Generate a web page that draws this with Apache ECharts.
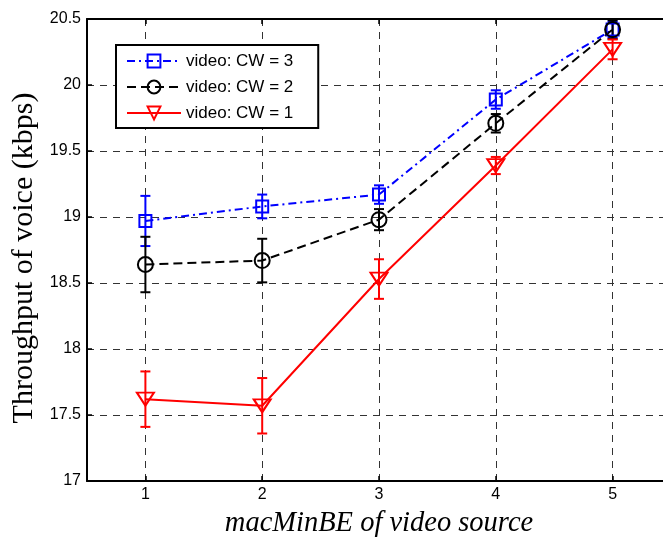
<!DOCTYPE html>
<html>
<head>
<meta charset="utf-8">
<script src="https://cdn.jsdelivr.net/npm/echarts@6/dist/echarts.min.js"></script>
<style>html,body{margin:0;padding:0;background:#fff;}#c{width:663px;height:540px;}</style>
</head>
<body>
<div id="c"></div>
<script>
// ---- data ----
var xValues = [1, 2, 3, 4, 5];
var xTicks = [1, 2, 3, 4, 5];
var yTicksMin = 17, yTicksMax = 20.5, yTickStep = 0.5;
var seriesNames = ['video: CW = 3', 'video: CW = 2', 'video: CW = 1'];
var cw3 = [18.97, 19.08, 19.17, 19.89, 20.42];
var cw3Err = [0.19, 0.09, 0.07, 0.07, 0.06];
var cw2 = [18.64, 18.67, 18.98, 19.71, 20.42];
var cw2Err = [0.21, 0.165, 0.08, 0.07, 0.07];
var cw1 = [17.62, 17.57, 18.53, 19.39, 20.27];
var cw1Err = [0.21, 0.21, 0.15, 0.065, 0.075];
var xTitle = 'macMinBE of video source';
var yTitle = 'Throughput of voice (kbps)';

function pts(vals) { return xValues.map(function (x, i) { return [x, vals[i]]; }); }
function errPts(vals, errs) { return xValues.map(function (x, i) { return [x, vals[i], errs[i]]; }); }

function errSeries(vals, errs, color) {
  return {
    type: 'custom',
    data: errPts(vals, errs),
    silent: true,
    z: 3,
    renderItem: function (params, api) {
      var x = api.value(0), y = api.value(1), e = api.value(2);
      var t = api.coord([x, y + e]);
      var b = api.coord([x, y - e]);
      var hw = 5;
      var st = { stroke: color, lineWidth: 2, fill: null };
      return {
        type: 'group',
        children: [
          { type: 'line', shape: { x1: t[0], y1: t[1], x2: b[0], y2: b[1] }, style: st },
          { type: 'line', shape: { x1: t[0] - hw, y1: t[1], x2: t[0] + hw, y2: t[1] }, style: st },
          { type: 'line', shape: { x1: b[0] - hw, y1: b[1], x2: b[0] + hw, y2: b[1] }, style: st }
        ]
      };
    }
  };
}

var gridDash = { color: '#333', width: 1, type: [7, 6] };
var font = 'Liberation Sans, Arial, sans-serif';

var chart = echarts.init(document.getElementById('c'), null, { renderer: 'canvas' });
chart.setOption({
  animation: false,
  backgroundColor: '#fff',
  grid: { left: 87, top: 19, right: -8, bottom: 59, containLabel: false, outerBoundsMode: 'none' },
  legend: {
    data: seriesNames,
    left: 116, top: 45,
    orient: 'vertical',
    backgroundColor: '#fff',
    borderColor: '#000', borderWidth: 2, borderRadius: 0,
    padding: [6, 25, 5, 10],
    itemWidth: 54, itemHeight: 16, itemGap: 6,
    iconRotate: 'inherit',
    textStyle: { fontFamily: font, fontSize: 17, color: '#000', lineHeight: 20 }
  },
  xAxis: [{
    type: 'value', min: 0.5, max: 5.5,
    name: xTitle, nameLocation: 'middle', nameGap: 28,
    nameTextStyle: { fontFamily: 'Liberation Serif, Times New Roman, serif', fontStyle: 'italic', fontSize: 28.5, color: '#000' },
    axisLine: { show: true, onZero: false, lineStyle: { color: '#000', width: 2 } },
    axisTick: { show: true, inside: true, length: 5, customValues: xTicks, lineStyle: { color: '#000', width: 1.5 } },
    axisLabel: { show: true, customValues: xTicks, margin: 6, fontFamily: font, fontSize: 16, color: '#000' },
    splitLine: { show: true, lineStyle: gridDash }
  }, {
    type: 'value', min: 0.5, max: 5.5, position: 'top',
    axisLine: { show: true, onZero: false, lineStyle: { color: '#000', width: 2 } },
    axisTick: { show: true, inside: true, length: 5, customValues: xTicks, lineStyle: { color: '#000', width: 1.5 } },
    axisLabel: { show: false },
    splitLine: { show: false }
  }],
  yAxis: [{
    type: 'value', min: yTicksMin, max: yTicksMax, interval: yTickStep,
    name: yTitle, nameLocation: 'middle', nameGap: 43,
    nameTextStyle: { fontFamily: 'Liberation Serif, Times New Roman, serif', fontSize: 30, color: '#000', padding: [0, 16, 0, 0] },
    axisLine: { show: true, onZero: false, lineStyle: { color: '#000', width: 2 } },
    axisTick: { show: true, inside: true, length: 5, lineStyle: { color: '#000', width: 1.5 } },
    axisLabel: { show: true, margin: 6, fontFamily: font, fontSize: 16, color: '#000' },
    splitLine: { show: true, lineStyle: gridDash }
  }],
  series: [
    errSeries(cw3, cw3Err, '#0000ff'),
    errSeries(cw2, cw2Err, '#000000'),
    errSeries(cw1, cw1Err, '#ff0000'),
    {
      name: seriesNames[0], type: 'line', data: pts(cw3), z: 4,
      symbol: 'rect', symbolSize: 12,
      lineStyle: { color: '#0000ff', width: 2, type: [8, 4, 2, 4] },
      itemStyle: { color: 'rgba(0,0,0,0)', borderColor: '#0000ff', borderWidth: 2 }
    },
    {
      name: seriesNames[1], type: 'line', data: pts(cw2), z: 4,
      symbol: 'circle', symbolSize: 15,
      lineStyle: { color: '#000000', width: 2, type: [9, 5] },
      itemStyle: { color: 'rgba(0,0,0,0)', borderColor: '#000000', borderWidth: 2 }
    },
    {
      name: seriesNames[2], type: 'line', data: pts(cw1), z: 4,
      symbol: 'triangle', symbolSize: [17, 13], symbolRotate: 180,
      lineStyle: { color: '#ff0000', width: 2, type: 'solid' },
      itemStyle: { color: 'rgba(0,0,0,0)', borderColor: '#ff0000', borderWidth: 2 }
    }
  ]
});
</script>
</body>
</html>
